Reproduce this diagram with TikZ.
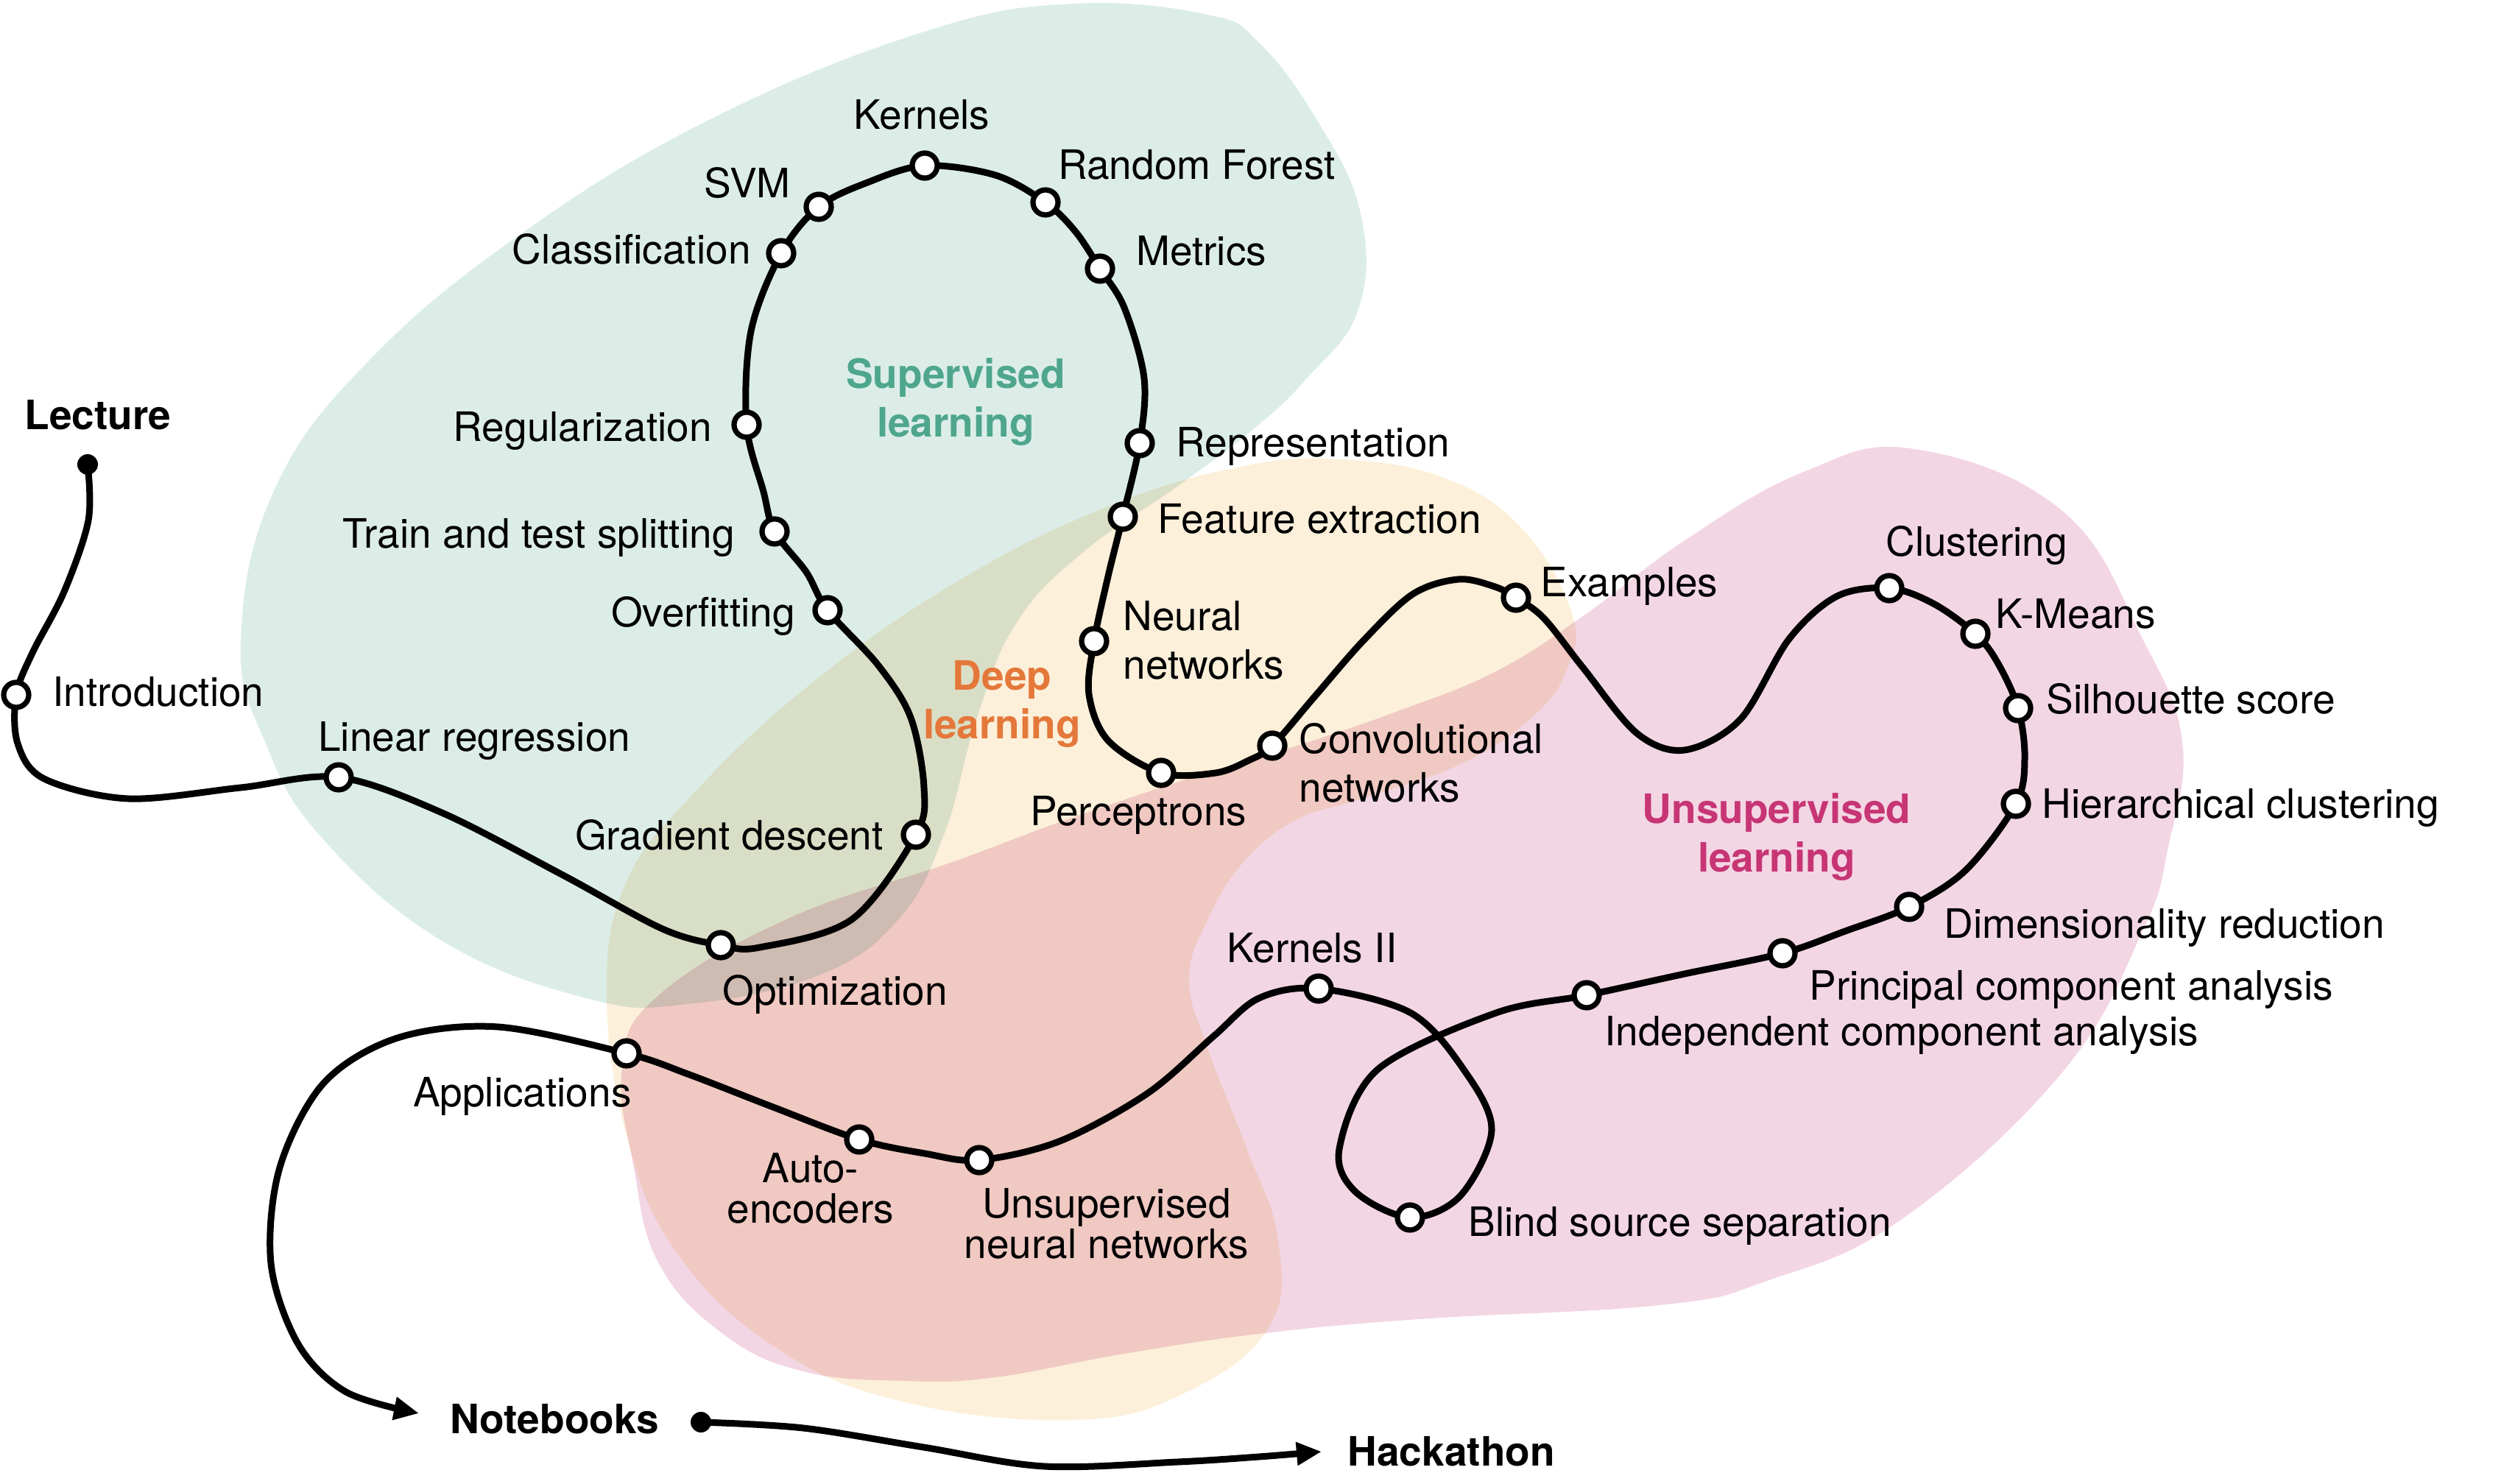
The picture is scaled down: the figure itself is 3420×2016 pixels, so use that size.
\documentclass[tikz,border=0pt]{standalone}
\usepackage{fontspec}
\setmainfont{TeX Gyre Heros}
\usetikzlibrary{arrows.meta,backgrounds}

\definecolor{supfill}{HTML}{DCEDE8}
\definecolor{deepfill}{HTML}{FCF0DA}
\definecolor{unsupfill}{HTML}{F3D6E4}
\definecolor{suptext}{HTML}{4EA68D}
\definecolor{deeptext}{HTML}{E4783A}
\definecolor{unsuptext}{HTML}{C73574}

\begin{document}
\begin{tikzpicture}[x=0.5pt, y=0.5pt,
    station/.style={circle, draw, fill=white, line width=3.6pt, minimum size=17pt, inner sep=0pt},
    endpoint/.style={circle, fill, minimum size=14pt, inner sep=0pt},
    lbl/.style={inner sep=0pt, font=\fontsize{27.5}{33}\selectfont},
    head/.style={inner sep=0pt, font=\fontsize{27.5}{33}\selectfont\bfseries},
    track/.style={line width=4.5pt, line join=round}]
    \useasboundingbox (0,0) rectangle (3420,2016);

    % stations along the track
    \node[endpoint] (lec) at (119,1385) {};
    \node[station] (intro) at (22,1072) {};
    \node[station] (linreg) at (460,960) {};
    \node[station] (optim) at (979,732) {};
    \node[station] (graddesc) at (1244,882) {};
    \node[station] (overfit) at (1124,1187) {};
    \node[station] (split) at (1052,1294) {};
    \node[station] (regul) at (1014,1439) {};
    \node[station] (classif) at (1061,1672) {};
    \node[station] (svm) at (1112,1735) {};
    \node[station] (kernels) at (1256,1791) {};
    \node[station] (forest) at (1420,1741) {};
    \node[station] (metrics) at (1494,1651) {};
    \node[station] (repr) at (1548,1414) {};
    \node[station] (feat) at (1525,1314) {};
    \node[station] (neural) at (1486,1145) {};
    \node[station] (percep) at (1577,966) {};
    \node[station] (conv) at (1728,1003) {};
    \node[station] (examples) at (2059,1204) {};
    \node[station] (cluster) at (2566,1217) {};
    \node[station] (kmeans) at (2683,1155) {};
    \node[station] (silh) at (2741,1054) {};
    \node[station] (hier) at (2738,924) {};
    \node[station] (dimred) at (2593,784) {};
    \node[station] (pca) at (2421,721) {};
    \node[station] (ica) at (2155,664) {};
    \node[station] (blind) at (1915,362) {};
    \node[station] (kernelsII) at (1791,673) {};
    \node[station] (unsupnn) at (1330,440) {};
    \node[station] (autoenc) at (1167,468) {};
    \node[station] (applic) at (851,585) {};
    \node[endpoint] (nbdot) at (952,84) {};
    \coordinate (nbtip) at (569,96);
    \coordinate (hacktip) at (1795,44);

    % labels
    \node[head, anchor=base west] (tLec) at (33,1432) {Lecture};
    \node[lbl, anchor=base west] (tIntro) at (71,1056) {Introduction};
    \node[lbl, anchor=base west] (tLinreg) at (432,995) {Linear regression};
    \node[lbl, anchor=base west] (tOptim) at (981,650) {Optimization};
    \node[lbl, anchor=base east] (tGrad) at (1200,861) {Gradient descent};
    \node[lbl, anchor=base east] (tOverfit) at (1080,1164) {Overfitting};
    \node[lbl, anchor=base east] (tSplit) at (998,1271) {Train and test splitting};
    \node[lbl, anchor=base east] (tRegul) at (967,1416) {Regularization};
    \node[lbl, anchor=base east] (tClassif) at (1020,1657) {Classification};
    \node[lbl, anchor=base east] (tSvm) at (1074,1747) {SVM};
    \node[lbl, anchor=base] (tKernels) at (1252,1840) {Kernels};
    \node[lbl, anchor=base west] (tForest) at (1437,1772) {Random Forest};
    \node[lbl, anchor=base west] (tMetrics) at (1543,1655) {Metrics};
    \node[lbl, anchor=base west] (tRepr) at (1597,1395) {Representation};
    \node[lbl, anchor=base west] (tFeat) at (1572,1291) {Feature extraction};
    \node[lbl, align=left, anchor=west] (tNeural) at (1525,1146) {Neural\\networks};
    \node[lbl, anchor=base] (tPercep) at (1546,894) {Perceptrons};
    \node[lbl, align=left, anchor=west] (tConv) at (1764,980) {Convolutional\\networks};
    \node[lbl, anchor=base west] (tExamples) at (2092,1205) {Examples};
    \node[lbl, anchor=base west] (tCluster) at (2561,1260) {Clustering};
    \node[lbl, anchor=base west] (tKmeans) at (2710,1162) {K-Means};
    \node[lbl, anchor=base west] (tSilh) at (2779,1046) {Silhouette score};
    \node[lbl, anchor=base west] (tHier) at (2773,904) {Hierarchical clustering};
    \node[lbl, anchor=base west] (tDimred) at (2640,741) {Dimensionality reduction};
    \node[lbl, anchor=base west] (tPca) at (2457,657) {Principal component analysis};
    \node[lbl, anchor=base west] (tIca) at (2179,595) {Independent component analysis};
    \node[lbl, anchor=base west] (tBlind) at (1994,336) {Blind source separation};
    \node[lbl, anchor=base] (tKernelsII) at (1782,708) {Kernels II};
    \node[lbl, align=center, font=\fontsize{27.5}{27.5}\selectfont] (tUnn) at (1503,354) {Unsupervised\\neural networks};
    \node[lbl, align=center, font=\fontsize{27.5}{27.5}\selectfont] (tAuto) at (1101,402) {Auto-\\encoders};
    \node[lbl, anchor=base east] (tApplic) at (858,512) {Applications};
    \node[head, anchor=base west] (tNotebooks) at (611,68) {Notebooks};
    \node[head, anchor=base west] (tHack) at (1830,24) {Hackathon};

    % topic areas
    \node[head, align=center, text=suptext] (tSup) at (1298,1470) {Supervised\\learning};
    \node[head, align=center, text=deeptext] (tDeep) at (1361,1060) {Deep\\learning};
    \node[head, align=center, text=unsuptext] (tUnsup) at (2413,879) {Unsupervised\\learning};

    \begin{scope}[on background layer]
        \begin{scope}[blend mode=multiply]
            \fill[supfill] plot[smooth cycle, tension=0.7] coordinates {(1460,2011) (1640,1996) (1710,1958) (1790,1851) (1848,1726) (1845,1596) (1775,1502) (1700,1431) (1600,1356) (1470,1265) (1380,1169) (1327,1041) (1282,882) (1220,767) (1112,691) (934,652) (800,659) (600,738) (436,879) (360,1008) (327,1142) (371,1347) (502,1527) (720,1707) (981,1862) (1265,1976)};
            \fill[deepfill] plot[smooth cycle, tension=0.7] coordinates {(1818,1392) (1961,1367) (2068,1297) (2135,1182) (2128,1106) (2080,1041) (1986,979) (1850,931) (1762,903) (1690,846) (1640,766) (1615,686) (1639,595) (1693,456) (1735,336) (1725,216) (1614,126) (1461,87) (1221,113) (1047,190) (916,319) (851,473) (824,666) (850,816) (940,936) (1100,1086) (1300,1226) (1500,1326) (1680,1381)};
            \fill[unsupfill] plot[smooth cycle, tension=0.7] coordinates {(2600,1406) (2801,1322) (2910,1148) (2964,1008) (2945,866) (2910,751) (2800,558) (2582,359) (2400,276) (2255,243) (1928,224) (1710,204) (1527,177) (1352,145) (1232,140) (1091,153) (982,204) (894,301) (860,435) (845,563) (889,659) (1068,767) (1291,844) (1450,903) (1629,963) (1762,1003) (1896,1049) (2030,1103) (2150,1179) (2290,1283) (2450,1375)};
        \end{scope}

        % the course track
        \draw[track, -{Triangle[length=17pt, width=15pt]}] plot[smooth, tension=0.55] coordinates {(lec.center) (120,1309) (87,1212) (44,1129) (intro.center) (24,1006) (60,958) (174,931) (327,946) (linreg.center) (600,912) (763,828) (900,754) (optim.center) (1032,729) (1157,767) (graddesc.center) (1255,946) (1237,1041) (1193,1112) (overfit.center) (1095,1239) (split.center) (1037,1348) (regul.center) (1020,1566) (classif.center) (svm.center) (1178,1768) (kernels.center) (1352,1778) (forest.center) (1461,1701) (metrics.center) (1527,1598) (1554,1502) (repr.center) (feat.center) (1505,1233) (neural.center) (1479,1073) (1505,1010) (percep.center) (1651,966) (1696,983) (conv.center) (1785,1069) (1852,1146) (1919,1209) (1981,1229) (2030,1219) (examples.center) (2097,1176) (2150,1109) (2223,1020) (2288,997) (2364,1039) (2430,1148) (2495,1206) (cluster.center) (2626,1196) (kmeans.center) (2713,1116) (silh.center) (2750,986) (hier.center) (2670,834) (dimred.center) (2506,751) (pca.center) (2288,693) (ica.center) (2032,640) (1871,563) (1819,455) (1841,397) (blind.center) (1983,391) (2026,481) (1988,563) (1916,640) (kernelsII.center) (1710,660) (1648,608) (1559,531) (1440,466) (unsupnn.center) (1256,449) (autoenc.center) (1050,512) (934,557) (applic.center) (676,621) (540,606) (440,545) (380,430) (368,300) (405,190) (470,125) (nbtip)};
        \draw[track, -{Triangle[length=17pt, width=15pt]}] plot[smooth, tension=0.55] coordinates {(nbdot.center) (1091,76) (1254,50) (1418,24) (1600,30) (1710,37) (hacktip)};
    \end{scope}
\end{tikzpicture}
\end{document}
